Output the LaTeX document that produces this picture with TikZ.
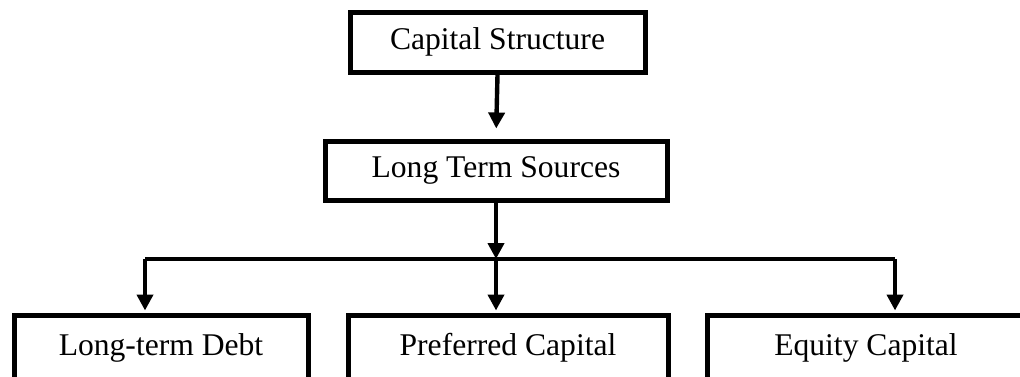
\documentclass[tikz,border=0pt]{standalone}
\usepackage{fontspec}
\setmainfont{Liberation Serif}
\usetikzlibrary{arrows.meta}

\begin{document}
\begin{tikzpicture}[x=0.5pt,y=-0.5pt,
  box/.style={draw,line width=2.5pt,inner sep=0pt,font=\fontsize{15.8}{18}\selectfont},
  link/.style={line width=2.2pt},
  arr/.style={link,-{Triangle[length=8pt,width=8pt]}}]
\useasboundingbox (0,0) rectangle (1020,376);
\node[box,minimum width=147.5pt,minimum height=30pt] (cap) at (497.5,42) {Capital Structure};
\node[box,minimum width=171pt,minimum height=29.5pt] (lts) at (496,170.5) {Long Term Sources};
% bottom row runs past the lower edge
\node[box,minimum width=147pt,minimum height=33pt] (debt) at (161,348) {Long-term Debt};
\node[box,minimum width=160pt,minimum height=33pt] (pref) at (508,348) {Preferred Capital};
\node[box,minimum width=159pt,minimum height=33pt] (equity) at (866,348) {Equity Capital};

\coordinate (busL) at (145,259);
\coordinate (busR) at (895,259);
\draw[arr,shorten >=5pt] (cap.south) -- (lts.north);
\draw[arr] (lts.south) -- (lts.south |- busL);
\draw[link] (busL) -- (busR);
\draw[arr,shorten >=1pt] (busL) -- (busL |- debt.north);
\draw[arr,shorten >=1pt] (lts.south |- busL) -- (lts.south |- pref.north);
\draw[arr,shorten >=1pt] (busR) -- (busR |- equity.north);
\end{tikzpicture}
\end{document}
